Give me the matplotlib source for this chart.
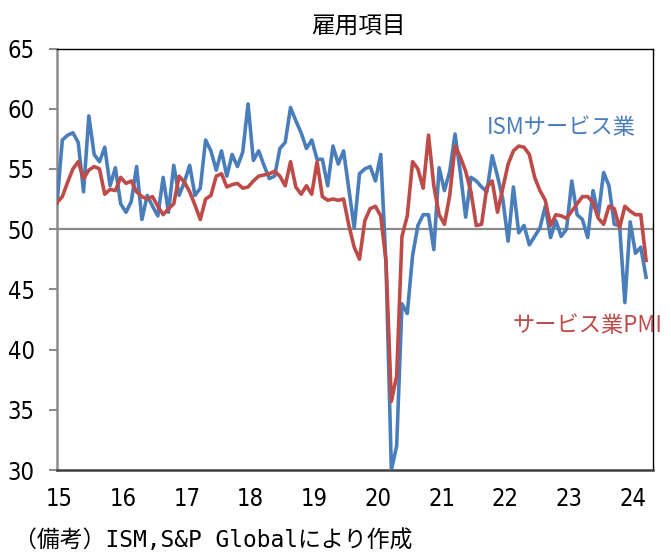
import numpy as np
import matplotlib
matplotlib.use("Agg")
import matplotlib.pyplot as plt
from matplotlib import font_manager

plt.rcParams["font.family"] = ["Noto Sans CJK JP", "DejaVu Sans"]

# monthly, 2015-01 .. 2024-04
ism = [52.1, 57.4, 57.8, 58.0, 57.2, 53.1, 59.4, 56.2, 55.6, 56.8, 53.6, 55.1,
       52.1, 51.4, 52.3, 55.2, 50.8, 52.8, 51.9, 51.1, 54.3, 51.4, 55.3, 52.8,
       53.9, 55.3, 52.8, 53.4, 57.4, 56.5, 54.9, 56.5, 54.4, 56.2, 55.2, 56.4,
       60.4, 55.7, 56.5, 55.3, 54.2, 54.4, 56.7, 57.2, 60.1, 59.0, 58.0, 56.7,
       57.4, 55.8, 55.8, 53.6, 56.9, 55.4, 56.5, 53.3, 50.1, 54.6, 55.0, 55.2,
       54.0, 56.2, 47.0, 30.0, 32.0, 43.8, 43.0, 47.8, 50.3, 51.2, 51.2, 48.3,
       55.1, 53.2, 54.8, 57.9, 54.7, 51.0, 54.3, 54.0, 53.5, 53.1, 56.1, 54.4,
       52.5, 49.0, 53.5, 49.7, 50.3, 48.7, 49.4, 50.1, 51.9, 49.3, 50.7, 49.4,
       50.0, 54.0, 51.2, 50.8, 49.3, 53.2, 51.2, 54.7, 53.6, 50.4, 50.3, 43.9,
       50.6, 48.0, 48.5, 46.0]
pmi = [52.2, 52.7, 53.9, 55.0, 55.6, 54.2, 54.9, 55.2, 55.0, 52.9, 53.3, 53.2,
       54.3, 53.8, 54.0, 53.1, 52.7, 52.5, 52.7, 51.9, 51.2, 51.7, 52.1, 54.4,
       53.9, 53.1, 52.0, 50.8, 52.5, 52.8, 54.4, 54.6, 53.5, 53.7, 53.8, 53.4,
       53.5, 54.0, 54.4, 54.5, 54.6, 54.8, 54.4, 53.6, 55.6, 53.5, 52.9, 53.6,
       52.9, 55.6, 52.7, 52.4, 52.5, 52.4, 52.5, 50.3, 48.5, 47.5, 50.7, 51.7,
       51.9, 51.1, 47.3, 35.7, 37.8, 49.4, 51.1, 55.6, 55.0, 53.4, 57.8, 53.6,
       51.2, 50.4, 52.8, 56.9, 56.0, 54.8, 53.1, 50.3, 50.4, 53.5, 54.0, 51.4,
       53.4, 55.4, 56.5, 56.9, 56.8, 56.2, 54.3, 53.2, 52.4, 50.3, 51.2, 51.1,
       50.9, 51.5, 52.1, 52.7, 52.7, 52.2, 50.9, 50.4, 51.9, 51.7, 50.1, 51.9,
       51.5, 51.2, 51.2, 47.4]
year_labels = ["15", "16", "17", "18", "19", "20", "21", "22", "23", "24"]
y_ticks = [30, 35, 40, 45, 50, 55, 60, 65]

BLUE = "#4A7EBB"
RED = "#BE4B48"
W, H = 671, 555

fig = plt.figure(figsize=(W / 100, H / 100), dpi=100)
ax = fig.add_axes([57 / W, (H - 470) / H, (653 - 57) / W, (470 - 48.5) / H])

months = np.arange(len(ism))
ax.axhline(50, color="#8C8C8C", linewidth=1.6, zorder=1)
ax.plot(months, ism, color=BLUE, linewidth=2.6, solid_joinstyle="round", zorder=3)
ax.plot(months, pmi, color=RED, linewidth=2.6, solid_joinstyle="round", zorder=4)

ax.set_xlim(0, 112.3)
ax.set_ylim(30, 65)
ax.set_yticks(y_ticks)
ax.set_xticks([12 * i + 0.5 for i in range(len(year_labels))])
ax.set_xticklabels(year_labels)

# narrow digits like the original's gothic font
tick_fp = font_manager.FontProperties(family="DejaVu Sans", stretch="condensed", size=17)
for lab in ax.get_xticklabels() + ax.get_yticklabels():
    lab.set_fontproperties(tick_fp)
ax.tick_params(axis="x", length=0, pad=12)
ax.tick_params(axis="y", length=6, width=1.5, color="#8C8C8C", pad=10, direction="out")

ax.spines["left"].set_color("#8C8C8C")
ax.spines["left"].set_linewidth(1.8)
ax.spines["bottom"].set_color("#404040")
ax.spines["bottom"].set_linewidth(1.8)
ax.spines["top"].set_color("black")
ax.spines["top"].set_linewidth(1.0)
ax.spines["right"].set_color("black")
ax.spines["right"].set_linewidth(1.0)

ax.text(81.0, 58.45, "ISMサービス業", color=BLUE, fontsize=16, va="center", ha="left")
ax.text(85.8, 42.0, "サービス業PMI", color=RED, fontsize=16, va="center", ha="left",
        clip_on=False, zorder=6)

fig.text(358 / W, 1 - 27.5 / H, "雇用項目", fontsize=17, ha="center", va="center")
fig.text(14 / W, 1 - 540 / H, "（備考）ISM,S&P Globalにより作成", fontsize=16.5,
         family=["DejaVu Sans Mono", "Noto Sans CJK JP"], ha="left", va="center")

fig.savefig("out.png", dpi=100)
